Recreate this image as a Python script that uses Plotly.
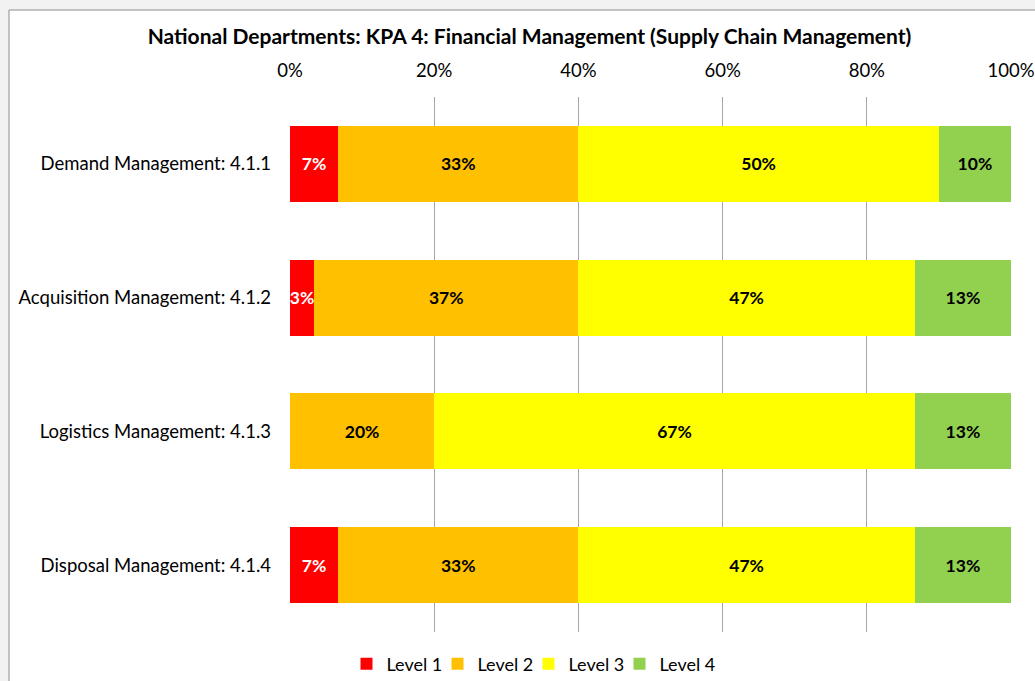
import plotly.graph_objects as go

categories = ["Demand Management: 4.1.1", "Acquisition Management: 4.1.2",
              "Logistics Management: 4.1.3", "Disposal Management: 4.1.4"]
level1 = [6.67, 3.33, 0.0, 6.67]
level2 = [33.33, 36.67, 20.0, 33.33]
level3 = [50.0, 46.67, 66.67, 46.67]
level4 = [10.0, 13.33, 13.33, 13.33]
series_names = ["Level 1", "Level 2", "Level 3", "Level 4"]
tick_vals = [0, 20, 40, 60, 80, 100]
tick_text = ["0%", "20%", "40%", "60%", "80%", "100%"]

colors = ["#FF0000", "#FFC000", "#FFFF00", "#92D050"]
text_colors = ["white", "black", "black", "black"]
FONT = "Lato, 'Open Sans', sans-serif"

fig = go.Figure()
for name, vals, c, tc in zip(series_names, [level1, level2, level3, level4], colors, text_colors):
    fig.add_trace(go.Bar(
        y=categories, x=vals, name=name, orientation="h",
        marker=dict(color=c, line=dict(width=0)),
        text=[f"{round(v)}%" if v > 0 else "" for v in vals],
        textposition="inside", insidetextanchor="middle", textangle=0,
        constraintext="none",
        textfont=dict(family=FONT, size=17.5, color=tc, weight="bold"),
        hoverinfo="skip",
    ))

# invisible spacer entry so the last legend label is not clipped
fig.add_trace(go.Bar(
    y=[categories[0]], x=[0], name=" ", orientation="h",
    marker=dict(color="rgba(0,0,0,0)", line=dict(width=0)),
    hoverinfo="skip", showlegend=True,
))

W, H = 1035, 681
L, R, T, B = 290, 24, 97, 49
pw, ph = W - L - R, H - T - B

def px_x(p):
    return (p - L) / pw

def px_y(p):
    return (H - B - p) / ph

fig.add_shape(type="rect", xref="paper", yref="paper",
              x0=px_x(9), x1=px_x(1060), y0=px_y(700), y1=px_y(10),
              fillcolor="white", line=dict(color="#8c8c8c", width=1), layer="below")

fig.update_layout(
    width=W, height=H,
    margin=dict(l=L, r=R, t=T, b=B, autoexpand=False),
    barmode="stack", bargap=0.433,
    paper_bgcolor="#f2f2f2", plot_bgcolor="rgba(0,0,0,0)",
    font=dict(family=FONT, size=18.5, color="black"),
    title=dict(text="<b>National Departments: KPA 4: Financial Management (Supply Chain Management)</b>",
               x=529.5 / W, xanchor="center", y=1 - 37 / H, yanchor="middle",
               font=dict(family=FONT, size=21, color="black")),
    xaxis=dict(side="top", range=[0, 100], tickvals=tick_vals, ticktext=tick_text,
               showgrid=True, gridcolor="#a6a6a6", gridwidth=1, zeroline=False,
               showline=False, ticks="", ticklabelstandoff=15, automargin=False,
               tickfont=dict(family=FONT, size=18.5, color="black"), fixedrange=True),
    yaxis=dict(categoryorder="array", categoryarray=categories[::-1],
               showgrid=False, showline=False, ticks="", ticklabelstandoff=18,
               automargin=False,
               tickfont=dict(family=FONT, size=18.5, color="black")),
    legend=dict(orientation="h", xref="container", x=574 / W, xanchor="center",
                yref="container", y=1 - 664 / H, yanchor="middle",
                font=dict(family=FONT, size=18, color="black"),
                bgcolor="rgba(0,0,0,0)", traceorder="normal",
                entrywidth=46, entrywidthmode="pixels", itemwidth=30),
    showlegend=True,
)

fig.write_html("out.html", config={"responsive": False, "displayModeBar": False},
               post_script="document.body.style.margin='0';document.body.style.overflow='hidden';")
